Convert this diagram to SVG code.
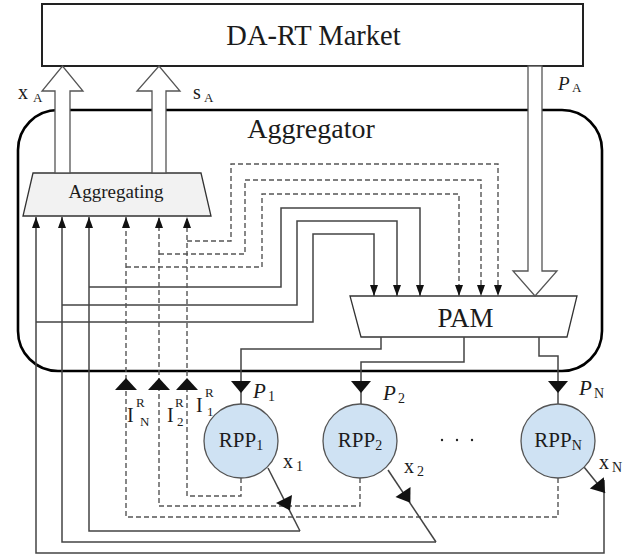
<svg xmlns="http://www.w3.org/2000/svg" width="641" height="556" viewBox="0 0 641 556">
<style>
text{font-family:"Times New Roman","Liberation Serif","DejaVu Serif",serif;fill:#1b1b1b}
.ln{fill:none;stroke:#444;stroke-width:1.5}
.ds{fill:none;stroke:#555;stroke-width:1.4;stroke-dasharray:5,3}
.hollow{fill:#fff;stroke:#555;stroke-width:1.3}
.head{fill:#111;stroke:none}
.it{font-style:italic}
</style>
<defs>
<marker id="ah" viewBox="0 0 11 8" refX="11" refY="4" markerWidth="11" markerHeight="8" orient="auto" markerUnits="userSpaceOnUse">
<path d="M0,0 L11,4 L0,8 z" fill="#111"/>
</marker>
</defs>
<rect width="641" height="556" fill="#fff"/>

<g id="market">
<rect x="42" y="4" width="541" height="62" fill="#fff" stroke="#222" stroke-width="2"/>
<text x="313.5" y="45" font-size="28.5" text-anchor="middle">DA-RT Market</text>
</g>

<g id="aggregator">
<rect x="18" y="110" width="584" height="261" rx="40" ry="40" fill="none" stroke="#000" stroke-width="2.6"/>
<text x="311" y="138" font-size="28" text-anchor="middle">Aggregator</text>
</g>

<g id="aggregating">
<polygon points="33,173 201,173 211,216 23,216" fill="#f2f2f2" stroke="#333" stroke-width="1.3"/>
<text x="116" y="198" font-size="19" text-anchor="middle">Aggregating</text>
</g>

<g id="pam">
<polygon points="350,296 577,296 567,337 361,337" fill="#fff" stroke="#333" stroke-width="1.3"/>
<text x="465.5" y="327" font-size="27" text-anchor="middle">PAM</text>
</g>

<g id="flows">
<polygon class="hollow" points="55,173 55,91 42,91 62.5,66 83,91 70,91 70,173"/>
<polygon class="hollow" points="152,173 152,91 137,91 159,66 180,91 166,91 166,173"/>
<polygon class="hollow" points="528,66 528,271 513,271 535,296 557,271 542,271 542,66"/>
<text x="18" y="99" font-size="20">x</text><text x="33" y="102" font-size="13">A</text>
<text x="193" y="99" font-size="20">s</text><text x="204" y="102" font-size="13">A</text>
<text x="558" y="90" font-size="19" class="it">P</text><text x="572" y="92" font-size="13">A</text>
</g>

<g id="connectors">
<path class="ln" d="M89,287 H281 V208 H420 V296" marker-end="url(#ah)"/>
<path class="ln" d="M62,305 H297 V221 H397 V296" marker-end="url(#ah)"/>
<path class="ln" d="M36,322 H313 V234 H374 V296" marker-end="url(#ah)"/>
<path class="ds" d="M187,241 H231 V164 H498 V296" marker-end="url(#ah)"/>
<path class="ds" d="M159,254 H245 V180 H481 V296" marker-end="url(#ah)"/>
<path class="ds" d="M126,267 H262 V194 H459 V296" marker-end="url(#ah)"/>
<path class="ln" d="M300,531 H89 V217" marker-end="url(#ah)"/>
<path class="ln" d="M436,542 H62 V217" marker-end="url(#ah)"/>
<path class="ln" d="M604,480 V553 H36 V217" marker-end="url(#ah)"/>
<path class="ds" d="M241,478 V496 H187 V217" marker-end="url(#ah)"/>
<path class="ds" d="M360,478 V506 H159 V217" marker-end="url(#ah)"/>
<path class="ds" d="M558,478 V517 H126 V217" marker-end="url(#ah)"/>
<polygon class="head" points="126,378 137,390 115,390"/>
<polygon class="head" points="159,378 170,390 148,390"/>
<polygon class="head" points="187,378 198,390 176,390"/>
<path class="ln" d="M381,337 V349 H241 V404"/>
<path class="ln" d="M464,337 V362 H361 V404"/>
<path class="ln" d="M539,337 V356 H558 V404"/>
<polygon class="head" points="231,381 251,381 241,393"/>
<polygon class="head" points="351,381 371,381 361,393"/>
<polygon class="head" points="548,381 568,381 558,393"/>
<path class="ln" stroke="#222" d="M268,468 L300,531"/>
<polygon class="head" points="292,494.9 276,503.1 290,510.5"/>
<path class="ln" stroke="#222" d="M388,470 L436,542"/>
<polygon class="head" points="410.5,487 395.5,497 410.3,502.8"/>
<path class="ln" stroke="#222" d="M584,467 L605,493"/>
<polygon class="head" points="603.8,477.2 589.8,488.6 605,493"/>
</g>

<g id="labels">
<text x="127" y="422" font-size="20">I</text><text x="136" y="407" font-size="13">R</text><text x="140" y="426" font-size="13">N</text>
<text x="167" y="422" font-size="20">I</text><text x="175" y="407" font-size="13">R</text><text x="177" y="426" font-size="13">2</text>
<text x="196" y="412" font-size="20">I</text><text x="205" y="397" font-size="13">R</text><text x="207" y="416" font-size="13">1</text>
<text x="253" y="398" font-size="21" class="it">P</text><text x="268" y="401" font-size="14">1</text>
<text x="383" y="400" font-size="21" class="it">P</text><text x="398" y="403" font-size="14">2</text>
<text x="579" y="395" font-size="21" class="it">P</text><text x="594" y="398" font-size="14">N</text>
<text x="283" y="468" font-size="20">x</text><text x="296" y="471" font-size="14">1</text>
<text x="404" y="473" font-size="20">x</text><text x="417" y="476" font-size="14">2</text>
<text x="599" y="469" font-size="20">x</text><text x="612" y="472" font-size="14">N</text>
<circle cx="442" cy="440" r="1.2" fill="#222"/>
<circle cx="457" cy="440" r="1.2" fill="#222"/>
<circle cx="472" cy="440" r="1.2" fill="#222"/>
</g>

<g id="rpp1">
<circle cx="241" cy="441" r="37" fill="#cfe2f3" stroke="#555" stroke-width="1.3"/>
<text x="241" y="447" font-size="21" text-anchor="middle">RPP<tspan font-size="14" dy="3">1</tspan></text>
</g>
<g id="rpp2">
<circle cx="360" cy="441" r="37" fill="#cfe2f3" stroke="#555" stroke-width="1.3"/>
<text x="360" y="447" font-size="21" text-anchor="middle">RPP<tspan font-size="14" dy="3">2</tspan></text>
</g>
<g id="rppN">
<circle cx="558" cy="441" r="37" fill="#cfe2f3" stroke="#555" stroke-width="1.3"/>
<text x="558" y="447" font-size="21" text-anchor="middle">RPP<tspan font-size="14" dy="3">N</tspan></text>
</g>
</svg>
